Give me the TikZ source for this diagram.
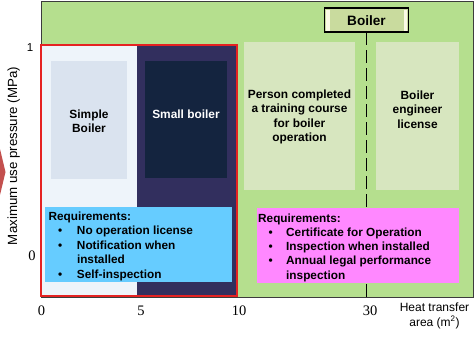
\documentclass[tikz,border=0pt]{standalone}
\usepackage{fontspec}
\setmainfont{Liberation Sans}
\newfontfamily\numfont{Liberation Serif}
\definecolor{areagreen}{HTML}{B5DF8E}
\definecolor{framegray}{HTML}{3C3C3C}
\definecolor{limitred}{HTML}{E52222}
\definecolor{simplebg}{HTML}{EEF4FA}
\definecolor{simplebox}{HTML}{DAE3EF}
\definecolor{smallbg}{HTML}{322F5E}
\definecolor{smallbox}{HTML}{14243F}
\definecolor{licbox}{HTML}{D7E6BF}
\definecolor{titlefill}{HTML}{C9DB9E}
\definecolor{titleend}{HTML}{FBFAE6}
\definecolor{reqblue}{HTML}{66CCFF}
\definecolor{reqpink}{HTML}{FF88FF}
\definecolor{arrowred}{HTML}{B8312F}
\begin{document}
\begin{tikzpicture}[x=1pt,y=-1pt,
  panel/.style={inner sep=0pt, outer sep=0pt},
  boxlabel/.style={inner sep=0pt, align=center, font=\fontsize{11.9}{14.3}\selectfont\bfseries},
  reqtext/.style={inner sep=0pt, anchor=north west, font=\fontsize{11.8}{14.5}\selectfont\bfseries},
  ticknum/.style={inner sep=0pt, anchor=base, font=\numfont\fontsize{14.5}{16}\selectfont},
  axistext/.style={inner sep=0pt, font=\fontsize{12}{14.5}\selectfont},
  limitline/.style={black, line width=1.8pt, dash pattern=on 13pt off 5pt}]
\useasboundingbox (0,0) rectangle (476,338);

% arrow tip entering from the left
\fill[arrowred, opacity=0.85] (0,149) -- (5.5,172) -- (0,195) -- cycle;

% whole range of boilers
\node[panel, fill=areagreen, draw=framegray, line width=1pt,
      minimum width=432pt, minimum height=295.5pt] (frame) at (257,149.25) {};

% simple boiler and small boiler ranges
\node[panel, fill=simplebg, minimum width=95pt, minimum height=249pt] (simplebg) at (89.5,170.5) {};
\node[panel, fill=smallbg, minimum width=99pt, minimum height=249pt] (smallbg) at (186.5,170.5) {};
\node[panel, fill=simplebox, minimum width=76pt, minimum height=118pt] (simple) at (89,120) {};
\node[panel, fill=smallbox, minimum width=82pt, minimum height=117pt] (small) at (186,119.5) {};
\node[panel, draw=limitred, line width=1.6pt, minimum width=196pt, minimum height=251pt] (limit) at (139,170.5) {};

% operator qualification boxes
\node[panel, fill=licbox, minimum width=111pt, minimum height=148pt] (course) at (299.5,116) {};
\node[panel, fill=licbox, minimum width=83pt, minimum height=148pt] (engineer) at (417.5,116) {};

% boiler title and its boundary line
\node[panel, fill=titlefill, minimum width=84pt, minimum height=24pt] (title) at (366.5,20) {};
\fill[titleend] ([xshift=1.5pt,yshift=-1.5pt]title.north west) rectangle ([xshift=5pt,yshift=1.5pt]title.south west);
\fill[titleend] ([xshift=-5pt,yshift=-1.5pt]title.north east) rectangle ([xshift=-1.5pt,yshift=1.5pt]title.south east);
\draw[black, line width=1.8pt] (title.north west) rectangle (title.south east);
\coordinate (lineend) at (366.5,297);
\draw[limitline] (title.south) -- (lineend);
\node[inner sep=0pt, font=\fontsize{13.6}{16}\selectfont\bfseries] (titletext) at (366.5,21) {Boiler};

% box labels
\node[boxlabel] (simpletext) at (89,121.3) {Simple\\Boiler};
\node[boxlabel, text=white] (smalltext) at (186,114.2) {Small boiler};
\node[boxlabel] (coursetext) at (299.5,117) {Person completed\\a training course\\for boiler\\operation};
\node[boxlabel] (engineertext) at (417.5,109.5) {Boiler\\engineer\\license};

% requirement boxes
\node[panel, fill=reqblue, minimum width=187pt, minimum height=75pt] (reqa) at (138.5,244.5) {};
\node[panel, fill=reqpink, minimum width=202pt, minimum height=75pt] (reqb) at (358,245.5) {};
\node[reqtext] (reqatext) at (48.3,209.9) {%
  \begin{tabular}{@{}l@{}l@{}}
  \multicolumn{2}{@{}l@{}}{Requirements:}\\
  \makebox[28.5pt][l]{\hspace{9.7pt}\textbullet} & No operation license\\
  \makebox[28.5pt][l]{\hspace{9.7pt}\textbullet} & Notification when\\
   & installed\\
  \makebox[28.5pt][l]{\hspace{9.7pt}\textbullet} & Self-inspection
  \end{tabular}};
\node[reqtext, font=\fontsize{11.8}{14.25}\selectfont\bfseries] (reqbtext) at (258,212) {%
  \begin{tabular}{@{}l@{}l@{}}
  \multicolumn{2}{@{}l@{}}{Requirements:}\\
  \makebox[28pt][l]{\hspace{10.3pt}\textbullet} & Certificate for Operation\\
  \makebox[28pt][l]{\hspace{10.3pt}\textbullet} & Inspection when installed\\
  \makebox[28pt][l]{\hspace{10.3pt}\textbullet} & Annual legal performance\\
   & inspection
  \end{tabular}};

% axes
\node[ticknum] (x0) at (41.5,315) {0};
\node[ticknum] (x5) at (141,315) {5};
\node[ticknum] (x10) at (239,315) {10};
\node[ticknum] (x30) at (370,315) {30};
\node[axistext, anchor=north, align=center] (xlabel) at (434.5,302.8) {Heat transfer\\area (m\textsuperscript{2})};
\node[inner sep=0pt, font=\fontsize{11.5}{14}\selectfont] (y1) at (30,48) {1};
\node[inner sep=0pt, font=\numfont\fontsize{14.5}{16}\selectfont] (y0) at (32,256) {0};
\node[inner sep=0pt, rotate=90, font=\fontsize{13.3}{16}\selectfont] (ylabel) at (13.8,156) {Maximum use pressure (MPa)};
\end{tikzpicture}
\end{document}
